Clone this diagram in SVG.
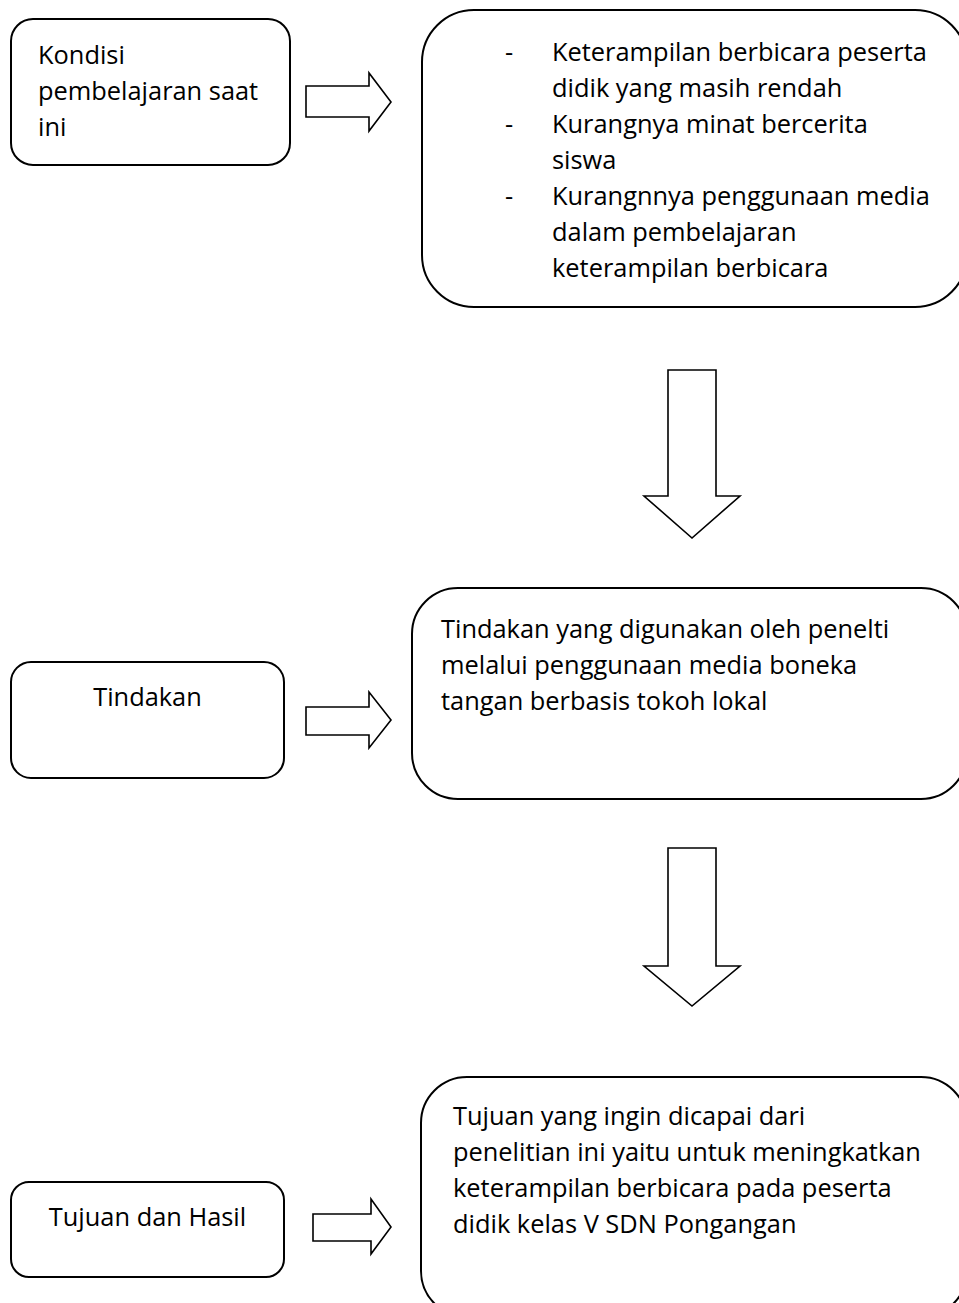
<svg xmlns="http://www.w3.org/2000/svg" width="959" height="1303" viewBox="0 0 959 1303">
<style>
.box{fill:#fff;stroke:#000;stroke-width:2}
.arr{fill:#fff;stroke:#000;stroke-width:1.6;stroke-linejoin:miter}
text{font-family:"Open Sans","Noto Sans",sans-serif;font-size:25.4px;fill:#000}
</style>
<rect width="959" height="1303" fill="#fff"/>
<g id="node-kondisi">
<rect class="box" x="11" y="19" width="279" height="146" rx="22"/>
<text x="38" y="64">Kondisi</text>
<text x="38" y="100">pembelajaran saat</text>
<text x="38" y="136">ini</text>
</g>
<g id="node-masalah">
<rect class="box" x="422" y="10" width="545" height="297" rx="52"/>
<text x="505" y="61">-</text><text x="552" y="61">Keterampilan berbicara peserta</text>
<text x="552" y="97">didik yang masih rendah</text>
<text x="505" y="133">-</text><text x="552" y="133">Kurangnya minat bercerita</text>
<text x="552" y="169">siswa</text>
<text x="505" y="205">-</text><text x="552" y="205">Kurangnnya penggunaan media</text>
<text x="552" y="241">dalam pembelajaran</text>
<text x="552" y="277">keterampilan berbicara</text>
</g>
<g id="node-tindakan">
<rect class="box" x="11" y="662" width="273" height="116" rx="20"/>
<text x="147.5" y="706" text-anchor="middle">Tindakan</text>
</g>
<g id="node-tindakan-detail">
<rect class="box" x="412" y="588" width="555" height="211" rx="46"/>
<text x="441" y="638">Tindakan yang digunakan oleh penelti</text>
<text x="441" y="674">melalui penggunaan media boneka</text>
<text x="441" y="710">tangan berbasis tokoh lokal</text>
</g>
<g id="node-tujuan">
<rect class="box" x="11" y="1182" width="273" height="95" rx="18"/>
<text x="147.5" y="1226" text-anchor="middle">Tujuan dan Hasil</text>
</g>
<g id="node-tujuan-detail">
<rect class="box" x="421" y="1077" width="546" height="240" rx="46"/>
<text x="453" y="1125">Tujuan yang ingin dicapai dari</text>
<text x="453" y="1161">penelitian ini yaitu untuk meningkatkan</text>
<text x="453" y="1197">keterampilan berbicara pada peserta</text>
<text x="453" y="1233">didik kelas V SDN Pongangan</text>
</g>
<g id="connectors">
<polygon class="arr" points="306,86 369,86 369,73 391,102 369,131 369,117 306,117"/>
<polygon class="arr" points="668,370 716,370 716,496 740,496 692,538 644,496 668,496"/>
<polygon class="arr" points="306,707 369,707 369,692 391,720 369,748 369,735 306,735"/>
<polygon class="arr" points="668,848 716,848 716,966 740,966 692,1006 644,966 668,966"/>
<polygon class="arr" points="313,1214 371,1214 371,1199 391,1227 371,1254 371,1241 313,1241"/>
</g>
</svg>
